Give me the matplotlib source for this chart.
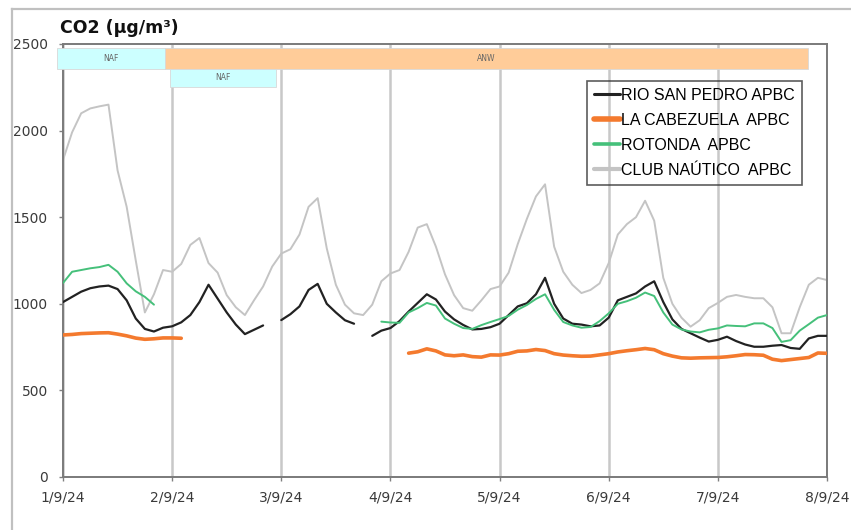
import numpy as np
import matplotlib
matplotlib.use("Agg")
import matplotlib.pyplot as plt
from matplotlib.patches import Rectangle
from matplotlib.lines import Line2D

# ---------------- data (2-hourly values, 1/9/24 00h -> 8/9/24 00h) ----------------
hours = np.arange(0, 170, 2)

tick_labels = ["1/9/24", "2/9/24", "3/9/24", "4/9/24", "5/9/24", "6/9/24", "7/9/24", "8/9/24"]
y_ticks = [0, 500, 1000, 1500, 2000, 2500]

series_names = ["RIO SAN PEDRO APBC", "LA CABEZUELA  APBC", "ROTONDA  APBC", "CLUB NAÚTICO  APBC"]

rio_san_pedro = [1010, 1040, 1070, 1090, 1100, 1105, 1085, 1020, 915, 855, 840, 862,
                 870, 893, 935, 1010, 1110, 1030, 950, 880, 825, 850, 875, None,
                 906, 940, 985, 1080, 1115, 1000, 950, 905, 885, None, 815, 845,
                 860, 900, 955, 1005, 1055, 1025, 955, 910, 878, 852, 855, 865,
                 885, 935, 985, 1003, 1055, 1150, 1000, 915, 885, 880, 870, 875,
                 920, 1020, 1040, 1060, 1100, 1130, 1010, 910, 855, 830, 805, 782,
                 792, 810, 785, 765, 752, 752, 758, 762, 745, 740, 800, 815,
                 815]

la_cabezuela = ([820, 823, 828, 830, 832, 833, 825, 815, 802, 795, 798, 803, 803, 801]
                + [None] * 24
                + [715, 723, 740, 728, 705, 700, 705, 695, 692, 705, 704, 712,
                   726, 728, 736, 730, 712, 704, 700, 697, 698, 705, 712, 722,
                   729, 735, 742, 735, 712, 698, 688, 686, 688, 689, 690, 694,
                   700, 707, 706, 703, 680, 672, 678, 684, 690, 716, 714])

rotonda = ([1120, 1185, 1195, 1205, 1212, 1225, 1185, 1118, 1072, 1040, 995]
           + [None] * 24
           + [897, 892, 890, 950, 975, 1005, 990, 915, 885, 860, 855, 877,
              895, 912, 930, 966, 993, 1028, 1055, 965, 895, 875, 862, 866,
              900, 945, 1000, 1015, 1035, 1065, 1045, 950, 880, 852, 840, 835,
              850, 858, 875, 872, 870, 887, 887, 860, 780, 790, 845, 882,
              920, 935])

club_nautico = [1830, 1990, 2100, 2128, 2140, 2150, 1770, 1560, 1250, 950, 1055, 1195,
                1185, 1230, 1340, 1380, 1235, 1180, 1050, 980, 935, 1020, 1100, 1215,
                1290, 1315, 1400, 1560, 1610, 1320, 1110, 995, 945, 935, 995, 1130,
                1175, 1195, 1300, 1440, 1460, 1330, 1170, 1050, 975, 960, 1020, 1085,
                1100, 1180, 1345, 1490, 1620, 1690, 1330, 1185, 1110, 1062, 1080, 1118,
                1235, 1400, 1460, 1500, 1595, 1480, 1150, 1000, 920, 868, 905, 975,
                1005, 1040, 1051, 1040, 1032, 1032, 980, 830, 830, 980, 1110, 1150,
                1137]

# episode bands (label, start day, end day, row)
band_labels = ["NAF", "ANW", "NAF"]
band_start = [-0.055, 0.935, 0.98]
band_end = [0.935, 6.826, 1.95]
band_row = [0, 0, 1]

# ---------------- figure ----------------
W, H = 851, 530
fig = plt.figure(figsize=(W / 100, H / 100), dpi=100)
ax = fig.add_axes([63 / W, (H - 477) / H, 764 / W, 433 / H])

days = hours / 24.0
vals = [np.array(v, dtype=float) for v in (rio_san_pedro, la_cabezuela, rotonda, club_nautico)]
colors = ["#222222", "#F47A2E", "#45C07A", "#C4C4C4"]
widths = [1.6, 2.6, 1.4, 1.4]
zorders = [4, 3, 5, 2]

handles = []
for v, c, lw, z, name in zip(vals, colors, widths, zorders, series_names):
    (ln,) = ax.plot(days, v, color=c, lw=lw, zorder=z, label=name, solid_capstyle="round")
    handles.append(ln)

ax.set_xlim(0, 7)
ax.set_ylim(0, 2500)
ax.set_xticks(range(len(tick_labels)))
ax.set_xticklabels(tick_labels)
ax.set_yticks(y_ticks)
ax.set_yticklabels([str(t) for t in y_ticks])
ax.tick_params(axis="both", direction="out", length=3, width=1, color="#808080",
               labelsize=10, labelcolor="#3a3a3a")
ax.tick_params(axis="y", pad=8)
ax.tick_params(axis="x", pad=7)
for s in ax.spines.values():
    s.set_color("#7a7a7a")
    s.set_linewidth(1.4)
ax.grid(axis="x", color="#c8c8c8", lw=1.8, zorder=1)
ax.set_axisbelow(True)

# bands
row_y = [(2356, 2477), (2252, 2356)]
band_colors = {"NAF": "#CCFFFF", "ANW": "#FFCC99"}
for lab, x0, x1, r in zip(band_labels, band_start, band_end, band_row):
    y0, y1 = row_y[r]
    ax.add_patch(Rectangle((x0, y0), x1 - x0, y1 - y0, facecolor=band_colors[lab],
                           edgecolor="#d8d8d8", lw=0.6, zorder=6, clip_on=False))
    ax.text((x0 + x1) / 2, (y0 + y1) / 2, lab, ha="center", va="center",
            fontsize=5.5, color="#666666", zorder=7, clip_on=False)

# legend
leg = ax.legend(handles=handles, loc="upper left", bbox_to_anchor=(0.686, 0.915),
                borderaxespad=0, frameon=True, fancybox=False, handlelength=1.6,
                handletextpad=0.1, labelspacing=0.62, borderpad=0.45,
                prop={"family": "Liberation Sans", "size": 11.5})
leg.get_frame().set_facecolor("none")
leg.get_frame().set_edgecolor("#333333")
leg.get_frame().set_linewidth(1.2)
leg.set_zorder(8)
for lh, lw in zip(leg.get_lines(), [2.2, 4.0, 2.6, 3.0]):
    lh.set_linewidth(lw)

# title
fig.text(60 / W, 1 - 28 / H, "CO2 (µg/m³)", ha="left", va="center",
         fontsize=12.5, fontweight="bold", color="#111111")

# outer chart-area border (top and left edges visible)
fig.add_artist(Line2D([12 / W, 1.0], [1 - 9 / H, 1 - 9 / H], color="#c0c0c0", lw=1.6,
                      transform=fig.transFigure))
fig.add_artist(Line2D([12 / W, 12 / W], [0.0, 1 - 9 / H], color="#c0c0c0", lw=1.6,
                      transform=fig.transFigure))

fig.savefig("out.png", dpi=100)
